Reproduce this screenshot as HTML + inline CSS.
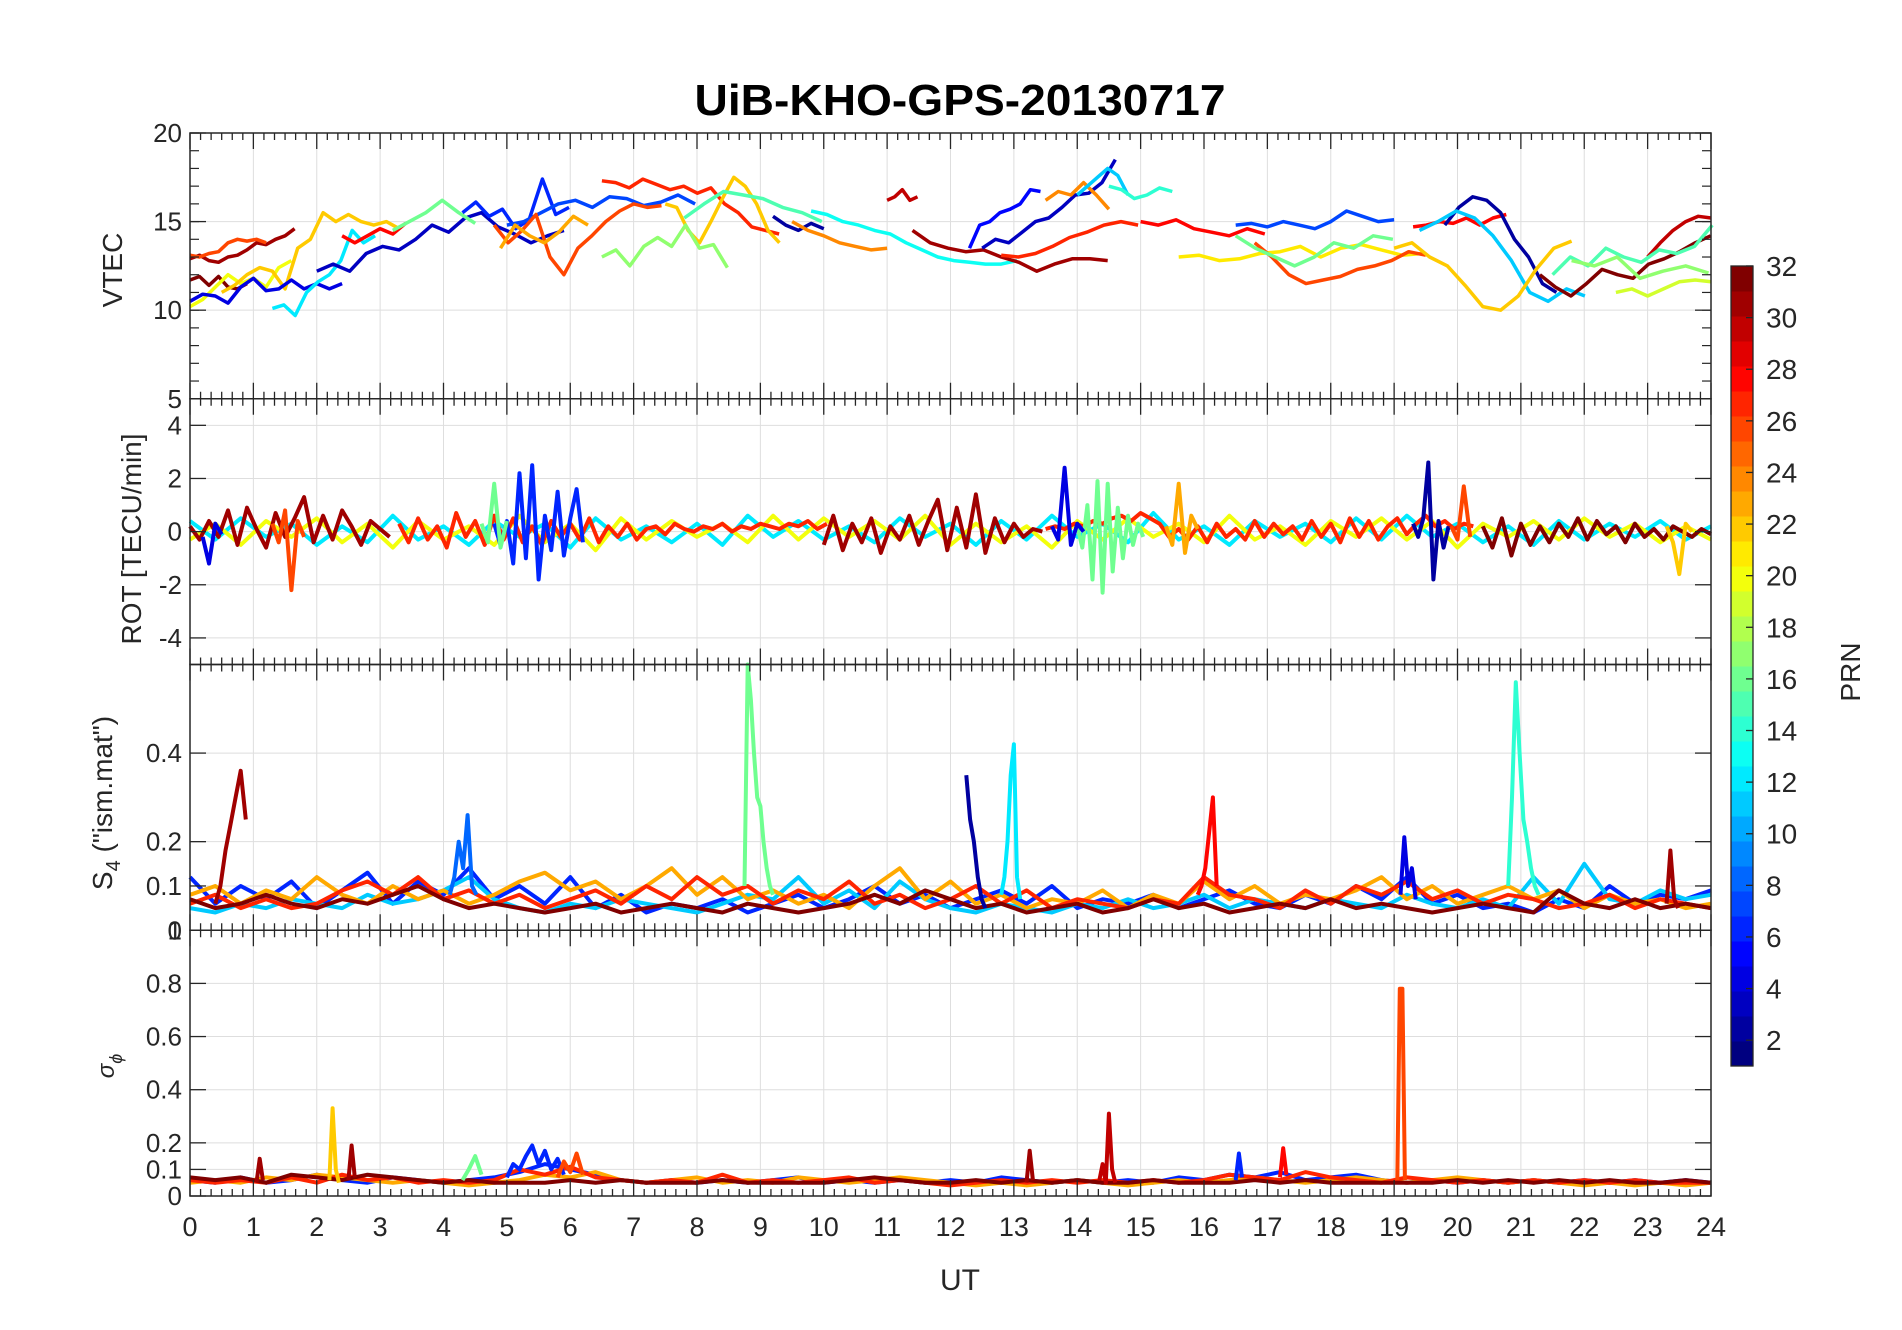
<!DOCTYPE html>
<html><head><meta charset="utf-8">
<style>
html,body{margin:0;padding:0;background:#fff;}
svg{display:block;font-family:"Liberation Sans",Arial,sans-serif;}
</style></head>
<body>
<svg id="chart" width="1902" height="1330" viewBox="0 0 1902 1330" xmlns="http://www.w3.org/2000/svg">
<text x="960" y="115" text-anchor="middle" font-size="44" font-weight="bold" fill="#000" textLength="531" lengthAdjust="spacingAndGlyphs">UiB-KHO-GPS-20130717</text>
<g id="grid"></g>
<g id="series"></g>
<g id="axes"></g>
<g id="cbar"></g>
<text x="122" y="270" transform="rotate(-90 122 270)" text-anchor="middle" font-size="28" fill="#262626">VTEC</text>
<text x="141" y="539" transform="rotate(-90 141 539)" text-anchor="middle" font-size="28" fill="#262626">ROT [TECU/min]</text>
<text x="112" y="803" transform="rotate(-90 112 803)" text-anchor="middle" font-size="28" fill="#262626">S<tspan dy="8" font-size="20">4</tspan><tspan dy="-8"> ("ism.mat")</tspan></text>
<text x="114" y="1066" transform="rotate(-90 114 1066)" text-anchor="middle" font-size="24" font-style="italic" fill="#262626">σ<tspan dy="8" font-size="18">ϕ</tspan></text>
<text x="960" y="1290" text-anchor="middle" font-size="30" fill="#262626">UT</text>
<text x="1860" y="672" transform="rotate(-90 1860 672)" text-anchor="middle" font-size="28" fill="#262626">PRN</text>
</svg>
<script>
// ---------- data ----------
const hourTicks = [0,1,2,3,4,5,6,7,8,9,10,11,12,13,14,15,16,17,18,19,20,21,22,23,24];
const vtecTicks = [5,10,15,20];
const rotTicks = [-4,-2,0,2,4];
const s4Ticks = [0,0.1,0.2,0.4];
const sigTicks = [0,0.1,0.2,0.4,0.6,0.8];
const cbTicks = [2,4,6,8,10,12,14,16,18,20,22,24,26,28,30,32];

// VTEC segments: [prn, startHour, stepHour, values]
const vtecSeries = [
[31,0,0.15,[12.9,13.1,12.8,12.7,13,13.1,13.4,13.8,13.7,14,14.2,14.6]],
[26,0,0.15,[13.1,13,13.2,13.3,13.8,14,13.9,14,13.8]],
[32,0,0.15,[11.7,11.9,11.4,11.9,11.3,11.2,11.5]],
[20,0,0.2,[10.2,10.6,11.3,12,11.5,11.8,11.3,12.4,12.8]],
[22,0.5,0.2,[11,11.4,12,12.4,12.2,11.2,13.5,14,15.5,15,15.4,15,14.8,15,14.6]],
[4,0,0.2,[10.5,10.9,10.8,10.4,11.3,11.8,11.1,11.2,11.7,11.2,11.5,11.2,11.5]],
[12,1.3,0.18,[10.1,10.3,9.7,11,11.6,12,12.8,14.5,13.8,14.2]],
[3,2,0.26,[12.2,12.6,12.2,13.2,13.6,13.4,14,14.8,14.4,15.2,15.5,14.7,14.3,13.8,14.2,14.5]],
[28,2.4,0.2,[14.2,13.8,14.2,14.6,14.3,14.9]],
[16,3.2,0.26,[14.5,15,15.5,16.2,15.5,14.9]],
[6,4.3,0.21,[15.5,16.1,15.3,15.7,14.6,15.1,17.4,15.4,15.8]],
[7,5,0.27,[14.8,15,15.5,16,16.2,15.8,16.4,16.3,15.9,16.1,16.5,16]],
[27,6.5,0.215,[17.3,17.2,16.9,17.4,17.1,16.8,17,16.6,16.9,16,15.5,14.7,14.5,14.3]],
[26,4.8,0.22,[14.8,13.8,14.5,15.4,13,12,13.5,14.2,15,15.6,16,15.8,15.9]],
[23,4.9,0.23,[13.5,14.8,14.2,13.8,14.4,15.3,14.8]],
[22,7.5,0.18,[16,15.8,14.5,13.8,15,16.3,17.5,17,16,14.5,13.8]],
[17,6.5,0.22,[13,13.4,12.5,13.6,14.1,13.6,14.8,13.5,13.7,12.4]],
[15,7.8,0.31,[15.2,16,16.7,16.5,16.3,15.8,15.5,15]],
[2,9.2,0.2,[15.3,14.8,14.5,14.9,14.6]],
[13,9.8,0.25,[15.6,15.4,15,14.8,14.5,14.3,13.8,13.4,13,12.8,12.7,12.6,12.6,12.8]],
[24,9.5,0.25,[15,14.5,14.2,13.8,13.6,13.4,13.5]],
[30,11,0.12,[16.2,16.4,16.8,16.2,16.4]],
[31,11.4,0.28,[14.5,13.8,13.5,13.3,13.4,13,12.7,12.2,12.6,12.9,12.9,12.8]],
[5,12.3,0.16,[13.5,14.8,15,15.5,15.7,16,16.8,16.7]],
[3,12.5,0.21,[13.5,14,13.8,14.4,15,15.2,15.8,16.5,16.6,17.2,18.5]],
[27,12.8,0.27,[13.1,13,13.2,13.6,14.1,14.4,14.8,15,14.8]],
[24,13.5,0.2,[16.2,16.7,16.5,17.2,16.5,15.7]],
[11,14,0.16,[16.5,17,17.5,18,17.6,16.5]],
[14,14.5,0.2,[17,16.8,16.3,16.5,16.9,16.7]],
[28,15,0.28,[15,14.8,15.1,14.6,14.4,14.2,14.6,14.3]],
[7,16.5,0.25,[14.8,14.9,14.7,15,14.8,14.6,15,15.6,15.3,15,15.1]],
[21,15.6,0.32,[13,13.1,12.8,12.9,13.2,13.3,13.6,13,13.5,13.7,13.4,13.1,13.2]],
[26,16.8,0.27,[13.8,13,12,11.5,11.7,11.9,12.3,12.5,12.8,13.3,13.1]],
[16,16.5,0.31,[14.2,13.5,13,12.5,13,13.8,13.5,14.2,14]],
[28,19.3,0.21,[14.7,14.8,15,14.9,15.2,14.8,15.2,15.4]],
[2,19.8,0.22,[14.8,15.8,16.4,16.2,15.5,14,13,11.5,11]],
[11,19.4,0.29,[14.5,15,15.6,15.2,14.2,12.8,11,10.5,11.2,10.8]],
[22,19,0.28,[13.5,13.8,13,12.5,11.4,10.2,10,10.8,12.3,13.5,13.9]],
[32,21.3,0.245,[12,11.3,10.8,11.5,12.3,12,11.8,12.6,12.9,13.3,13.8,14.2]],
[30,23,0.2,[13,13.8,14.5,15,15.3,15.2]],
[19,22.5,0.25,[11,11.2,10.8,11.2,11.6,11.7,11.6]],
[15,21.5,0.28,[12,13,12.5,13.5,13,12.7,13.4,13.2,13.6,14.8]],
[17,21.8,0.36,[12.8,12.5,13,11.8,12.2,12.5,12.1]]
];

const rotSeries = [
[12,0,0.4,[0.4,-0.3,0.5,-0.2,0.3,-0.5,0.2,-0.4,0.6,-0.3,0.2,-0.5,0.4,-0.2,0.3,-0.6,0.5,-0.3,0.2,-0.4,0.3,-0.5,0.6,-0.2,0.4,-0.3,0.2,-0.4,0.5,-0.2,0.3,-0.5,0.4,-0.3,0.6,-0.2,0.3,-0.4,0.7,-0.3,0.2,-0.5,0.4,-0.2,0.3,-0.4,0.5,-0.3,0.6,-0.2,0.3,-0.4,0.2,-0.5,0.4,-0.3,0.3,-0.2,0.4,-0.3,0.2]],
[20,0,0.4,[-0.3,0.3,-0.5,0.4,-0.2,0.5,-0.4,0.3,-0.6,0.4,-0.3,0.2,-0.5,0.6,-0.4,0.3,-0.7,0.5,-0.3,0.4,-0.2,0.3,-0.4,0.6,-0.3,0.5,-0.2,0.4,-0.3,0.6,-0.5,0.3,-0.4,0.2,-0.6,0.4,-0.3,0.5,-0.2,0.3,-0.4,0.6,-0.3,0.2,-0.5,0.4,-0.2,0.5,-0.3,0.4,-0.6,0.3,-0.2,0.4,-0.3,0.5,-0.2,0.3,-0.4,0.2,-0.3]],
[31,0,0.15,[0.2,-0.3,0.4,-0.2,0.8,-0.5,0.9,0.1,-0.6,0.7,-0.2,0.5,1.3,-0.4,0.6,-0.3,0.8,0.2,-0.5,0.4,0.1,-0.2]],
[27,3.3,0.15,[0.3,-0.4,0.5,-0.3,0.2,-0.6,0.7,-0.2,0.4,-0.5,0.6,-0.3,0.5,-0.4,0.2,-0.5,0.4,-0.2,0.3,-0.3,0.5,-0.4,0.2,-0.2,0.3,-0.3,0.1,0.2,-0.1,0.3,0.1,0,0.2,0.1,0.3,0,0.2,0.1,0.3,0.2,0.1,0.3,0.2,0.4,0.1,0.3]],
[31,10,0.15,[-0.5,0.6,-0.7,0.3,-0.4,0.5,-0.8,0.2,-0.3,0.6,-0.5,0.4,1.2,-0.7,0.9,-0.6,1.4,-0.8,0.5,-0.4,0.3,-0.2,0.1,0]],
[27,13.5,0.15,[0.1,0.2,0.1,0.3,0.2,0.4,0.3,0.5,0.6,0.4,0.7,0.5,0.3,-0.2,0.1,-0.3,0.2,-0.4,0.3,-0.2,0.1,-0.3,0.4,-0.2,0.3,-0.1,0.2,-0.3,0.4,-0.2,0.3,-0.4,0.5,-0.2,0.4,-0.3,0.2,0.5,-0.1,0.3,0.6,0.2,0.4,0.1,0.3,0.2]],
[32,20.4,0.15,[0.2,-0.6,0.5,-0.9,0.3,-0.5,0.2,-0.4,0.3,-0.2,0.5,-0.3,0.4,-0.1,0.2,-0.4,0.3,-0.2,0.1,-0.3,0.2,0,-0.2,0.1,-0.1]],
[6,4.8,0.1,[0.3,-0.5,0.4,-1.2,2.2,-1.0,2.5,-1.8,0.6,-0.7,1.5,-0.9,0.5,1.6,-0.4]],
[2,19.3,0.08,[0.3,-0.2,0.5,2.6,-1.8,0.4,-0.6,0.2]],
[16,14.0,0.08,[0.2,-0.6,1.0,-1.8,1.9,-2.3,1.8,-1.5,0.9,-1.0,0.6,-0.5,0.3,-0.2]],
[4,13.6,0.1,[0.2,-0.3,2.4,-0.5,0.3,0]],
[26,1.3,0.1,[0.3,-0.4,0.8,-2.2,0.4,-0.2]],
[23,15.4,0.1,[0.2,-0.5,1.8,-0.8,0.6,0.1]],
[22,23.3,0.1,[0.2,-0.4,-1.6,0.3,0]],
[4,0.2,0.1,[-0.2,-1.2,0.3,-0.1]],
[16,4.6,0.1,[0.3,-0.4,1.8,-0.6,0.4]],
[26,19.9,0.1,[0.2,-0.3,1.7,-0.2]]
];

const s4Series = [
[6,0,0.4,[0.12,0.06,0.1,0.07,0.11,0.05,0.09,0.13,0.06,0.11,0.08,0.14,0.07,0.1,0.06,0.12,0.05,0.08,0.04,0.06,0.05,0.07,0.04,0.06,0.08,0.05,0.07,0.1,0.06,0.08,0.05,0.07,0.09,0.06,0.1,0.05,0.07,0.06,0.08,0.05,0.07,0.09,0.06,0.05,0.08,0.06,0.1,0.07,0.12,0.06,0.08,0.05,0.06,0.04,0.07,0.05,0.1,0.06,0.08,0.07,0.09]],
[11,0,0.4,[0.05,0.04,0.06,0.05,0.07,0.06,0.05,0.08,0.06,0.07,0.09,0.12,0.07,0.05,0.04,0.06,0.05,0.07,0.06,0.05,0.04,0.06,0.08,0.07,0.12,0.06,0.09,0.05,0.11,0.07,0.05,0.04,0.06,0.05,0.04,0.06,0.05,0.07,0.05,0.06,0.08,0.05,0.07,0.06,0.05,0.07,0.06,0.05,0.08,0.06,0.05,0.07,0.05,0.12,0.06,0.15,0.07,0.06,0.09,0.07,0.08]],
[23,0,0.4,[0.08,0.1,0.06,0.09,0.07,0.12,0.08,0.06,0.1,0.07,0.09,0.06,0.08,0.11,0.13,0.09,0.11,0.07,0.1,0.14,0.08,0.12,0.07,0.09,0.06,0.08,0.05,0.1,0.14,0.07,0.11,0.06,0.08,0.05,0.07,0.06,0.09,0.05,0.08,0.06,0.11,0.07,0.1,0.06,0.08,0.07,0.09,0.12,0.07,0.1,0.06,0.08,0.1,0.07,0.09,0.05,0.08,0.06,0.07,0.05,0.06]],
[27,0,0.4,[0.06,0.08,0.05,0.07,0.05,0.06,0.09,0.11,0.08,0.12,0.07,0.09,0.06,0.08,0.05,0.07,0.09,0.06,0.1,0.07,0.12,0.08,0.1,0.06,0.09,0.07,0.11,0.06,0.08,0.05,0.07,0.1,0.06,0.09,0.05,0.07,0.06,0.05,0.07,0.06,0.12,0.08,0.07,0.05,0.09,0.06,0.1,0.08,0.11,0.07,0.09,0.06,0.08,0.07,0.05,0.06,0.08,0.05,0.07,0.06,0.05]],
[32,0,0.4,[0.07,0.05,0.06,0.08,0.06,0.05,0.07,0.06,0.08,0.1,0.07,0.05,0.06,0.05,0.04,0.05,0.06,0.04,0.05,0.06,0.05,0.04,0.06,0.05,0.04,0.05,0.06,0.08,0.06,0.09,0.07,0.05,0.06,0.04,0.05,0.06,0.04,0.05,0.07,0.05,0.06,0.04,0.05,0.06,0.05,0.07,0.05,0.06,0.05,0.04,0.05,0.06,0.05,0.04,0.09,0.06,0.05,0.07,0.05,0.06,0.05]],
[31,0.4,0.08,[0.06,0.1,0.18,0.24,0.3,0.36,0.25]],
[16,8.75,0.05,[0.1,0.6,0.52,0.4,0.3,0.28,0.2,0.14,0.1,0.08]],
[2,12.25,0.06,[0.35,0.25,0.2,0.12,0.07,0.05]],
[12,12.8,0.05,[0.08,0.12,0.2,0.35,0.42,0.12,0.07]],
[28,15.9,0.06,[0.08,0.1,0.14,0.22,0.3,0.1]],
[14,20.8,0.06,[0.1,0.3,0.56,0.4,0.25,0.2,0.14,0.1,0.08]],
[8,4.1,0.07,[0.08,0.12,0.2,0.14,0.26,0.1,0.08]],
[4,19.1,0.06,[0.08,0.21,0.1,0.14,0.07]],
[31,23.3,0.06,[0.06,0.18,0.07,0.05]]
];

const sigSeries = [
[6,0,0.4,[0.06,0.05,0.07,0.05,0.06,0.08,0.06,0.05,0.07,0.06,0.05,0.06,0.07,0.09,0.12,0.1,0.08,0.06,0.05,0.06,0.05,0.06,0.05,0.06,0.07,0.05,0.06,0.05,0.06,0.05,0.06,0.05,0.07,0.06,0.05,0.06,0.05,0.06,0.05,0.07,0.06,0.08,0.07,0.09,0.06,0.07,0.08,0.06,0.05,0.06,0.05,0.06,0.05,0.06,0.05,0.06,0.05,0.06,0.05,0.06,0.05]],
[23,0,0.4,[0.05,0.06,0.05,0.07,0.06,0.08,0.07,0.06,0.05,0.06,0.05,0.04,0.05,0.06,0.08,0.07,0.09,0.06,0.05,0.06,0.07,0.05,0.06,0.05,0.07,0.06,0.05,0.06,0.07,0.06,0.05,0.04,0.05,0.04,0.05,0.06,0.05,0.04,0.05,0.06,0.05,0.06,0.07,0.06,0.05,0.06,0.07,0.06,0.05,0.06,0.07,0.06,0.05,0.06,0.05,0.04,0.05,0.04,0.05,0.04,0.05]],
[27,0,0.4,[0.06,0.05,0.06,0.05,0.07,0.05,0.08,0.06,0.07,0.05,0.06,0.05,0.06,0.1,0.08,0.11,0.07,0.06,0.05,0.06,0.05,0.08,0.05,0.06,0.05,0.06,0.07,0.05,0.06,0.05,0.04,0.05,0.06,0.05,0.06,0.05,0.06,0.05,0.06,0.05,0.06,0.08,0.07,0.06,0.09,0.07,0.06,0.05,0.07,0.06,0.05,0.06,0.05,0.06,0.05,0.06,0.05,0.06,0.05,0.05,0.05]],
[32,0,0.4,[0.07,0.06,0.07,0.05,0.08,0.07,0.06,0.08,0.07,0.06,0.05,0.06,0.05,0.05,0.05,0.06,0.05,0.06,0.05,0.05,0.05,0.06,0.05,0.05,0.05,0.05,0.06,0.07,0.06,0.05,0.05,0.06,0.05,0.06,0.05,0.06,0.05,0.05,0.06,0.05,0.05,0.05,0.06,0.05,0.06,0.05,0.05,0.05,0.05,0.05,0.06,0.05,0.06,0.05,0.06,0.05,0.06,0.05,0.05,0.06,0.05]],
[22,2.2,0.05,[0.06,0.33,0.1,0.05]],
[31,2.5,0.05,[0.06,0.19,0.07]],
[31,1.05,0.05,[0.05,0.14,0.06]],
[6,5,0.1,[0.07,0.12,0.1,0.15,0.19,0.12,0.17,0.1,0.14,0.08]],
[26,5.8,0.1,[0.07,0.13,0.09,0.16,0.08]],
[31,13.2,0.05,[0.05,0.17,0.06]],
[30,14.35,0.05,[0.06,0.12,0.05,0.31,0.1,0.05]],
[28,17.2,0.05,[0.07,0.18,0.08]],
[26,19.05,0.04,[0.06,0.78,0.78,0.06]],
[16,4.3,0.1,[0.06,0.1,0.15,0.08]],
[6,16.5,0.05,[0.06,0.16,0.07]]
];

// ---------- layout ----------
const NS='http://www.w3.org/2000/svg';
const L=190, R=1711, TOP=133, PH=265.75;
const panels=[
 {name:'vtec',min:5,max:20,ticks:vtecTicks,minor:1,data:vtecSeries,w:3.5},
 {name:'rot',min:-5,max:5,ticks:rotTicks,minor:0,data:rotSeries,w:4},
 {name:'s4',min:0,max:0.6,ticks:s4Ticks,minor:0,data:s4Series,w:4},
 {name:'sigma',min:0,max:1,ticks:sigTicks,minor:0,data:sigSeries,w:4}
];
function xS(h){return L+(h/24)*(R-L);}
function yS(p,v){const P=panels[p];const t=TOP+p*PH;return t+PH*(P.max-v)/(P.max-P.min);}
function jet(prn){const t=(prn-1)/31;const c=x=>Math.round(255*Math.max(0,Math.min(1,1.5-Math.abs(x))));
 return 'rgb('+c(4*t-3)+','+c(4*t-2)+','+c(4*t-1)+')';}
function mk(tag,attrs,parent){const e=document.createElementNS(NS,tag);for(const k in attrs)e.setAttribute(k,attrs[k]);parent.appendChild(e);return e;}
const grid=document.getElementById('grid'),ser=document.getElementById('series'),axes=document.getElementById('axes'),cb=document.getElementById('cbar');

panels.forEach((P,p)=>{
 const t=TOP+p*PH,b=t+PH;
 hourTicks.forEach(h=>{if(h>0&&h<24){const g=mk('line',{x1:xS(h),x2:xS(h),y1:t,y2:b,stroke:'#dedede','stroke-width':1},grid);
  
  }});
 P.ticks.forEach(v=>{if(v>P.min&&v<P.max){const g=mk('line',{x1:L,x2:R,y1:yS(p,v),y2:yS(p,v),stroke:'#dedede','stroke-width':1},grid);
  
  }});
 P.data.forEach(s=>{
  const [prn,t0,dt,vals]=s;
  const pts=vals.map((v,i)=>xS(t0+i*dt).toFixed(1)+','+yS(p,v).toFixed(1)).join(' ');
  const pl=mk('polyline',{points:pts,fill:'none',stroke:jet(prn),'stroke-width':P.w,'stroke-linejoin':'round'},ser);
  
  
 });
 const box=mk('rect',{x:L,y:t,width:R-L,height:PH,fill:'none',stroke:'#262626','stroke-width':1.5},axes);
 
 
 for(let m=0;m<=144;m++){const h=m/6;const len=(m%6===0)?16:7;const x=xS(h);
  mk('line',{x1:x,x2:x,y1:t,y2:t+len,stroke:'#262626','stroke-width':1.3},axes);
  mk('line',{x1:x,x2:x,y1:b,y2:b-len,stroke:'#262626','stroke-width':1.3},axes);}
 P.ticks.forEach(v=>{const y=yS(p,v);
  mk('line',{x1:L,x2:L+16,y1:y,y2:y,stroke:'#262626','stroke-width':1.3},axes);
  mk('line',{x1:R,x2:R-16,y1:y,y2:y,stroke:'#262626','stroke-width':1.3},axes);
  const tx=mk('text',{x:L-8,y:y+9,'text-anchor':'end','font-size':26,fill:'#262626'},axes);
  tx.textContent=String(v);
  
  });
 if(P.minor){for(let v=P.min;v<=P.max;v+=P.minor){const y=yS(p,v);
  mk('line',{x1:L,x2:L+9,y1:y,y2:y,stroke:'#262626','stroke-width':1.2},axes);
  mk('line',{x1:R,x2:R-9,y1:y,y2:y,stroke:'#262626','stroke-width':1.2},axes);}}
});
const one=mk('text',{x:L-8,y:yS(3,1)+9,'text-anchor':'end','font-size':26,fill:'#262626'},axes);
one.textContent='1';


hourTicks.forEach(h=>{const tx=mk('text',{x:xS(h),y:1236,'text-anchor':'middle','font-size':27,fill:'#262626'},axes);
 tx.textContent=String(h);
 
 });
const CBX=1731,CBW=22,CBT=266,CBB=1066;
for(let k=1;k<=32;k++){const h=(CBB-CBT)/32;const r=mk('rect',{x:CBX,y:CBT+(32-k)*h,width:CBW,height:h+0.5,fill:jet(k)},cb);
 
 }
const cbb=mk('rect',{x:CBX,y:CBT,width:CBW,height:CBB-CBT,fill:'none',stroke:'#262626','stroke-width':1.3},cb);


cbTicks.forEach(v=>{const y=CBT+(32-v)*(CBB-CBT)/31;
 mk('line',{x1:CBX+CBW-7,x2:CBX+CBW,y1:y,y2:y,stroke:'#262626','stroke-width':1.3},cb);
 const tx=mk('text',{x:1766,y:y+10,'font-size':28,fill:'#262626'},cb);
 tx.textContent=String(v);
 
 });
</script>
</body></html>
